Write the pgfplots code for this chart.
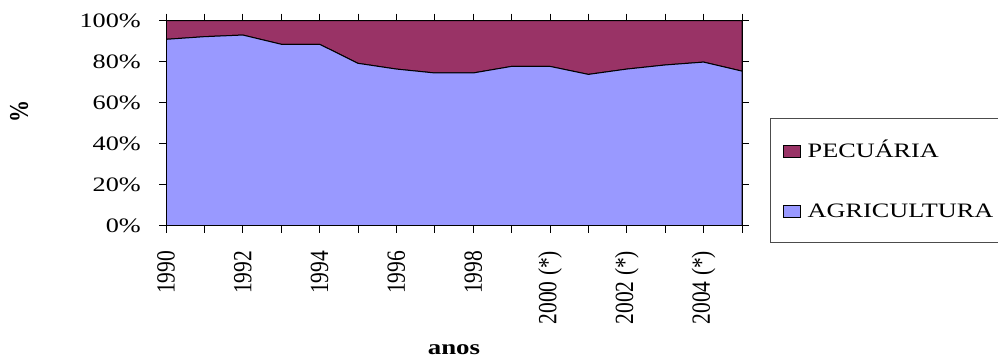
\documentclass[border=0pt]{standalone}
\usepackage{fontspec}
\setmainfont{Liberation Serif}
\usepackage{graphicx}
\usepackage{pgfplots}
\pgfplotsset{compat=1.18}
\definecolor{agri}{HTML}{9999FF}
\definecolor{pecu}{HTML}{993366}
\newcommand\xl[1]{\scalebox{1}[1.22]{#1\hspace{18pt}}}
\newcommand\yl[1]{\scalebox{1}[1.22]{#1}}
\newcommand\hs[1]{\scalebox{1.28}[1]{#1}}
\begin{document}
\begin{tikzpicture}
\useasboundingbox (0,0) rectangle (998pt,358pt);
\begin{axis}[
 at={(166pt,132.3pt)}, anchor=south west,
 scale only axis, width=576pt, height=205pt,
 xmin=1990, xmax=2005, ymin=0, ymax=100,
 stack plots=y,
 axis on top,
 axis line style={black, line width=1pt},
 tick align=outside,
 tick style={black, line width=0.8pt},
 major tick length=7pt,
 xtick={1990,1991,1992,1993,1994,1995,1996,1997,1998,1999,2000,2001,2002,2003,2004,2005},
 xticklabels={\xl{1990},,\xl{1992},,\xl{1994},,\xl{1996},,\xl{1998},,\xl{2000 (*)},,\xl{2002 (*)},,\xl{2004 (*)},},
 xticklabel style={rotate=90, anchor=east, inner sep=0pt, font=\fontsize{21.5}{24}\selectfont},
 ytick={0,20,40,60,80,100},
 yticklabels={\hs{0\%},\hs{20\%},\hs{40\%},\hs{60\%},\hs{80\%},\hs{100\%}},
 yticklabel style={font=\fontsize{20.5}{22}\selectfont, inner sep=0pt, anchor=east, xshift=-18pt},
 ylabel={\yl{\bfseries\%}},
 ylabel style={at={(axis description cs:-0.255,0.555)}, anchor=center, font=\fontsize{22}{24}\selectfont},
 xlabel={\hs{\bfseries anos}},
 xlabel style={at={(axis description cs:0.5,-0.630)}, anchor=base, font=\fontsize{21}{24}\selectfont},
 reverse legend,
 legend style={at={(1.0486,0.525)}, anchor=north west, draw=black!70, line width=0.8pt, fill=white,
   inner xsep=12.7pt, inner ysep=25pt, row sep=46pt, column sep=7.4pt,
   font=\fontsize{20.5}{22}\selectfont,
   nodes={inner sep=0pt, text height=14pt, text depth=0pt}},
 legend cell align=left,
 legend image code/.code={\draw[#1, draw=black, line width=0.6pt] (0pt,-6.5pt) rectangle (16.6pt,5.5pt);},
]
\addplot[fill=agri, draw=black, line width=1pt] coordinates {
(1990,90.9) (1991,92.2) (1992,93.0) (1993,88.5) (1994,88.5) (1995,79.2) (1996,76.4) (1997,74.5)
(1998,74.5) (1999,77.7) (2000,77.7) (2001,73.8) (2002,76.4) (2003,78.4) (2004,79.8) (2005,75.4)
} \closedcycle;
\addlegendentry{\hs{AGRICULTURA}}
\addplot[fill=pecu, draw=black, line width=1pt] coordinates {
(1990,9.1) (1991,7.8) (1992,7.0) (1993,11.5) (1994,11.5) (1995,20.8) (1996,23.6) (1997,25.5)
(1998,25.5) (1999,22.3) (2000,22.3) (2001,26.2) (2002,23.6) (2003,21.6) (2004,20.2) (2005,24.6)
} \closedcycle;
\addlegendentry{\hs{PECUÁRIA}}
\end{axis}
\end{tikzpicture}
\end{document}
